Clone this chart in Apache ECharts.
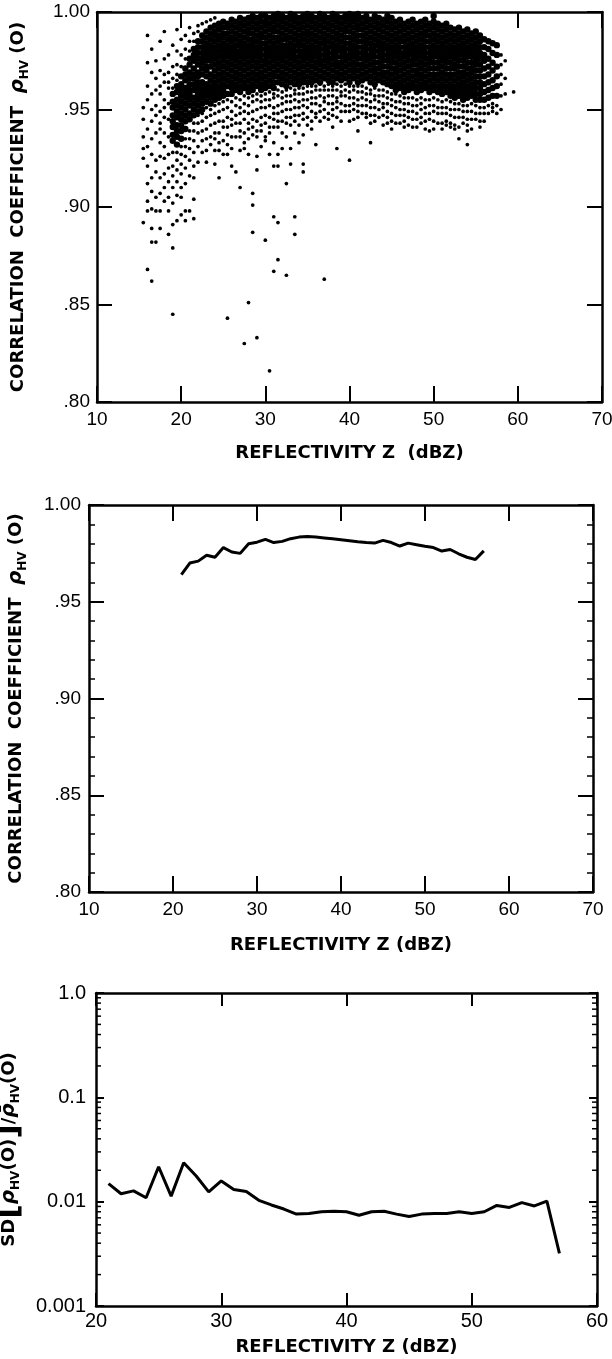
<!DOCTYPE html>
<html><head><meta charset="utf-8">
<script src="https://cdn.jsdelivr.net/npm/echarts@6/dist/echarts.min.js"></script>
<style>html,body{margin:0;padding:0;background:#fff}#c{width:612px;height:1359px}</style>
</head><body><div id="c"></div>
<script>
// ---------- Panel 1: scatter of rho_hv(0) vs Z (values in thousandths of rho) ----------
// dense core of the cloud, by Z column
const coreCols = [
[19.0,[958,954,951,947,944,941,937,934]],
[19.5,[962,959,955,952,949,946,942,939,936,932]],
[20.0,[967,963,960,957,954,951,948,945,942,939,935]],
[20.5,[971,968,965,961,958,956,953,950,947,944,940]],
[21.0,[976,973,969,966,963,960,958,955,952,948,945]],
[21.5,[981,978,975,971,968,966,963,960,956,953,950,947]],
[22.0,[985,982,979,976,973,969,967,964,961,958,955,952,949]],
[22.5,[988,985,982,979,976,974,971,968,964,962,959,956,953,950]],
[23.0,[990,987,984,981,978,975,972,970,967,963,960,957,954]],
[23.5,[992,989,986,983,980,977,975,972,968,965,962,959,956,953]],
[24.0,[993,990,988,985,982,979,976,973,970,967,964,961,958,955]],
[24.5,[994,991,988,986,983,980,977,974,971,968,965,962,959,956]],
[25.0,[995,992,989,987,984,981,978,975,972,969,966,963,960,957]],
[25.5,[994,992,989,986,983,980,977,974,971,968,965,962,958]],
[26.0,[996,993,990,987,985,982,979,976,973,970,967,964,961,958]],
[26.5,[995,992,989,986,983,980,978,975,972,969,966,963,960]],
[27.0,[997,994,991,988,985,983,980,977,974,971,968,965,962,959]],
[27.5,[996,993,990,987,984,981,978,976,973,970,967,964,961]],
[28.0,[997,994,991,989,986,983,980,977,974,971,968,965,962,959]],
[28.5,[998,995,992,989,986,984,981,978,975,972,969,966,963,960]],
[29.0,[997,994,991,988,985,982,979,977,974,971,968,965,962]],
[29.5,[998,995,992,989,987,984,981,978,975,972,969,966,963,960]],
[30.0,[998,995,993,990,987,984,981,978,975,973,970,967,964,961]],
[30.5,[997,994,991,988,985,982,980,977,974,971,968,965,962]],
[31.0,[998,995,992,990,987,984,981,978,975,972,969,967,964,961]],
[31.5,[999,996,993,990,987,985,982,979,976,973,970,967,964]],
[32.0,[998,995,992,989,986,983,981,978,975,972,969,966,963]],
[32.5,[997,994,991,988,986,983,980,977,974,971,968,965,962]],
[33.0,[999,996,993,990,987,984,981,979,976,973,970,967,964]],
[33.5,[998,995,992,989,986,983,980,977,975,972,969,966,963]],
[34.0,[997,994,991,988,985,983,980,977,974,971,968,965,963]],
[34.5,[998,995,992,989,986,983,980,978,975,972,969,966,964]],
[35.0,[999,996,993,990,988,985,982,979,976,973,970,967,964]],
[35.5,[998,995,992,989,986,983,981,978,975,972,969,966,964]],
[36.0,[997,994,991,988,985,982,979,977,974,971,968,965]],
[36.5,[999,996,993,990,987,984,981,978,975,973,970,967,964]],
[37.0,[998,995,992,989,986,984,981,978,975,972,969,966]],
[37.5,[997,994,991,988,985,982,979,976,974,971,968,965]],
[38.0,[999,996,993,990,987,984,982,979,976,973,970,967,964]],
[38.5,[998,995,992,989,986,983,980,977,974,972,969,966]],
[39.0,[997,994,991,988,985,982,980,977,974,971,968,965]],
[39.5,[998,995,992,990,987,984,981,978,975,972,969,966]],
[40.0,[999,996,993,990,987,984,981,978,976,973,970,967,964]],
[40.5,[998,995,992,989,986,983,980,977,974,971,969,966]],
[41.0,[999,996,993,991,988,985,982,979,976,973,970,967,964]],
[41.5,[997,994,991,988,985,982,979,976,973,971,968,965]],
[42.0,[998,995,992,989,986,984,981,978,975,972,969,966]],
[42.5,[996,993,990,987,984,981,978,976,973,970,967,964]],
[43.0,[998,995,992,989,986,983,980,977,974,971,969,966,963]],
[43.5,[997,994,991,988,985,983,980,977,974,971,968,965]],
[44.0,[996,993,990,987,984,981,978,975,972,969,967,964]],
[44.5,[998,995,992,989,986,983,981,978,975,972,969,966,963]],
[45.0,[997,994,991,988,985,982,979,976,974,971,968,965,962]],
[45.5,[995,992,989,986,983,980,977,974,971,969,966,963,960]],
[46.0,[996,993,990,987,985,982,979,976,973,970,967,964,961]],
[46.5,[994,991,988,985,982,979,977,974,971,968,965,962,959]],
[47.0,[995,992,989,986,983,980,978,975,972,969,966,963,960]],
[47.5,[996,993,990,987,984,981,978,975,973,970,967,964,961]],
[48.0,[994,991,988,985,982,979,976,973,970,968,965,962,959]],
[48.5,[995,992,989,986,983,980,977,974,971,968,966,963,960]],
[49.0,[996,993,990,988,985,982,979,976,973,970,967,964,961]],
[49.5,[994,991,988,985,982,979,976,974,971,968,965,962,959]],
[50.0,[998,995,992,989,986,983,980,977,974,971,968,966,963,960]],
[50.5,[994,991,988,985,982,979,977,974,971,968,965,962,959]],
[51.0,[993,990,987,984,981,978,975,972,969,966,963,961,958]],
[51.5,[994,991,988,985,982,979,976,974,971,968,965,962,959]],
[52.0,[992,989,986,983,980,977,974,971,968,966,963,960,957]],
[52.5,[991,988,985,982,979,976,973,971,968,965,962,959,956]],
[53.0,[992,989,986,983,980,978,975,972,969,966,963,960,957]],
[53.5,[990,987,984,981,978,975,972,969,967,964,961,958,955]],
[54.0,[991,988,985,982,979,977,974,971,968,965,962,959,956]],
[54.5,[989,986,983,980,977,974,971,969,966,963,960,957]],
[55.0,[990,987,984,981,978,975,973,970,967,964,961,958,955]],
[55.5,[988,985,982,979,976,973,970,967,964,961,958,955]],
[56.0,[986,982,978,975,971,967,963,959,955]],
[56.5,[985,981,976,972,968,964,960,956]],
[57.0,[984,979,974,970,965,961,957]],
[57.5,[983,978,972,967,962,957]]
];
// sparse points and outliers, by Z column
const looseCols = [
[15.5,[936,930,951,925,945,892]],
[16.0,[962,988,974,940,921,912,898,931,955,903,868]],
[16.5,[981,969,950,935,915,908,927,944,958,889,882,862,899]],
[17.0,[975,960,947,938,924,918,905,952,966,882,898]],
[17.5,[985,970,958,949,940,933,926,915,907,962,943,889,898]],
[18.0,[990,976,964,955,946,938,931,925,917,910,903,951,968]],
[18.5,[978,969,961,953,945,936,927,920,913,905,898,964,886]],
[19.0,[983,972,966,961,928,921,916,910,902,891,879,845]],
[19.5,[991,980,973,968,965,928,924,919,913,906,893]],
[20.0,[986,978,972,931,927,922,917,910,905,896]],
[20.5,[988,981,976,935,931,926,920,912,893,898]],
[21.0,[992,985,980,939,935,930,924,916,898]],
[21.5,[989,985,943,939,934,928,921,915,904,894]],
[22.0,[993,990,947,943,938,931,923]],
[22.5,[994,948,944,939,934,928]],
[23.0,[995,951,946,940,935,929,923]],
[23.5,[996,950,947,942,936,932]],
[24.0,[997,952,948,943,938,935,929,922]],
[24.5,[953,949,944,938,933,929,915]],
[25.0,[954,950,944,941,934,927]],
[25.5,[955,951,946,941,937,932,927,843]],
[26.0,[954,949,945,942,936,930,921]],
[26.5,[956,952,947,943,936,918]],
[27.0,[955,951,948,943,939,936,929,910]],
[27.5,[957,953,949,945,938,933,930,830]],
[28.0,[956,952,948,943,940,935,927,851]],
[28.5,[957,954,949,945,941,937,907,901,887]],
[29.0,[958,955,950,944,939,936,926,919,833]],
[29.5,[957,954,951,946,942,939,931]],
[30.0,[958,955,951,947,943,936,934,883]],
[30.5,[959,955,952,946,941,938,927,816]],
[31.0,[958,956,951,948,945,941,933,921,895,867]],
[31.5,[960,957,952,948,944,941,927,921,892,873]],
[32.0,[959,956,953,949,944,938,930]],
[32.5,[960,957,954,950,946,943,936,912,865]],
[33.0,[961,957,954,950,946,942,930,922]],
[33.5,[960,958,955,951,947,944,938,895,886]],
[34.0,[961,958,954,951,947,942,933]],
[34.5,[961,958,955,952,948,945,937,922,918]],
[35.0,[962,959,955,951,946,942]],
[35.5,[962,959,956,953,949,944,940]],
[36.0,[962,960,956,953,948,946,932]],
[36.5,[963,960,957,952,949,944]],
[37.0,[962,960,956,954,950,946,863]],
[37.5,[963,960,957,953,948,945]],
[38.0,[962,960,957,953,950,947,941]],
[38.5,[963,960,956,954,951,946,930]],
[39.0,[962,959,957,953,949,944]],
[39.5,[963,960,957,952,949]],
[40.0,[962,959,956,952,949,944,924]],
[40.5,[962,960,956,953,950,945]],
[41.0,[962,959,955,952,949,946,939]],
[41.5,[962,959,956,952,948]],
[42.0,[961,958,955,952,948,946]],
[42.5,[960,958,954,951,947,943,933]],
[43.0,[961,957,955,951,947,944]],
[43.5,[960,957,954,950,946]],
[44.0,[960,957,953,951,947,942]],
[44.5,[959,956,953,949,946,943]],
[45.0,[958,955,952,948,944,940]],
[45.5,[958,954,951,947,943]],
[46.0,[957,954,950,947,943]],
[46.5,[956,953,950,947,944,941]],
[47.0,[956,953,949,946,942]],
[47.5,[956,952,949,945,941]],
[48.0,[955,952,948,945,941]],
[48.5,[956,953,950,946,943]],
[49.0,[955,951,948,944,940]],
[49.5,[955,952,948,945,939]],
[50.0,[956,952,949,944,940]],
[50.5,[955,951,948,943]],
[51.0,[954,951,948,943,940]],
[51.5,[955,951,948,944,942]],
[52.0,[954,950,947,943,941]],
[52.5,[953,950,946,942,940]],
[53.0,[953,950,946,941,935]],
[53.5,[952,949,946,943]],
[54.0,[952,949,945,942,939,932]],
[54.5,[953,949,945,940]],
[55.0,[952,948,945]],
[55.5,[951,948,944,941]],
[56.0,[951,948,944]],
[56.5,[952,948]],
[57.0,[953,949,951]],
[57.5,[952,948]],
[58.0,[978,973,968,963,957,950]],
[58.5,[975,966,958]],
[59.5,[959]]
];

// ---------- Panel 2: mean rho_hv(0) vs Z ----------
const meanZ   = [21,22,23,24,25,26,27,28,29,30,31,32,33,34,35,36,37,38,39,40,41,42,43,44,45,46,47,48,49,50,51,52,53,54,55,56,57];
const meanRho = [.964,.970,.971,.974,.973,.978,.9757,.975,.980,.9808,.9822,.9806,.9812,.9826,.9834,.9837,.9835,.983,.9825,.982,.9815,.981,.9806,.9803,.9817,.9806,.9788,.9803,.9795,.9787,.978,.9762,.977,.9748,.973,.9718,.9763];

// ---------- Panel 3: SD[rho]/mean rho vs Z ----------
const sdZ     = [21,22,23,24,25,26,27,28,29,30,31,32,33,34,35,36,37,38,39,40,41,42,43,44,45,46,47,48,49,50,51,52,53,54,55,56,57];
const sdRatio = [.0149,.0119,.0127,.0109,.0216,.0113,.0236,.0176,.0124,.0158,.0131,.0125,.0103,.0093,.0085,.0076,.0077,.0080,.0081,.0080,.0074,.0080,.0081,.0076,.0072,.0076,.0077,.0077,.0080,.0077,.0080,.0092,.0088,.0098,.0091,.0101,.0032];

// axis tick values
const zTicks1 = [10, 70, 10];     // min, max, interval
const rhoTicks = [0.80, 1.00, 0.05];
const zTicks3 = [20, 60, 10];
const sdRange = [0.001, 1];
const logMinor = [0.002,0.003,0.004,0.005,0.006,0.007,0.008,0.009,0.02,0.03,0.04,0.05,0.06,0.07,0.08,0.09,0.2,0.3,0.4,0.5,0.6,0.7,0.8,0.9];

// ---------- build ----------
const corePts = [];
coreCols.forEach(([z, vals]) => vals.forEach(v => corePts.push([z, v / 1000])));
const loosePts = [];
looseCols.forEach(([z, vals]) => vals.forEach(v => loosePts.push([z, v / 1000])));

const TF = 'Liberation Sans';
const HF = 'DejaVu Sans';
const axLine = {show: true, onZero: false, lineStyle: {color: '#000', width: 2.5}};
function tick(len) { return {show: true, inside: true, length: len, lineStyle: {color: '#000', width: 2}}; }
const rhoFmt = v => v >= 0.999 ? '1.00' : '.' + String(Math.round(v * 100));
const labelStyle = (m, fs) => ({show: true, margin: m, fontFamily: TF, fontSize: fs, color: '#000'});
const titleStyle = {fontFamily: HF, fontWeight: 'bold', fontSize: 18, color: '#000'};
const richY = {
  t: {fontFamily: HF, fontWeight: 'bold', fontSize: 18, lineHeight: 26, color: '#000', verticalAlign: 'middle'},
  r: {fontFamily: HF, fontStyle: 'italic', fontWeight: 'bold', fontSize: 20, lineHeight: 26, color: '#000', verticalAlign: 'middle'},
  s: {fontFamily: HF, fontWeight: 'bold', fontSize: 12, lineHeight: 13, color: '#000', verticalAlign: 'bottom'},
  b: {fontFamily: HF, fontWeight: 'bold', fontSize: 32, lineHeight: 26, color: '#000', verticalAlign: 'middle'}
};
const yName12 = '{t|CORRELATION  COEFFICIENT  }{r|ρ}{s|HV}{t| (O)}';
const yName3 = '{t|SD}{b|[}{r|ρ}{s|HV}{t|(O)}{b|]}{t|/}{r|ρ\u0304}{s|HV}{t|(O)}';

function xPair(gi, rng, len, lab, name, gap) {
  return [
    {gridIndex: gi, type: 'value', position: 'bottom', min: rng[0], max: rng[1], interval: rng[2],
     axisLine: axLine, axisTick: tick(len), splitLine: {show: false},
     axisLabel: Object.assign(labelStyle(lab[0], lab[1]), {showMinLabel: true, showMaxLabel: true}),
     name: name, nameLocation: 'middle', nameGap: gap, nameTextStyle: titleStyle},
    {gridIndex: gi, type: 'value', position: 'top', min: rng[0], max: rng[1], interval: rng[2],
     axisLine: axLine, axisTick: tick(len), splitLine: {show: false}, axisLabel: {show: false}}
  ];
}
function yPairLin(gi, len, minor, lab, gap) {
  const mt = minor ? {show: true, splitNumber: 5, length: 6, lineStyle: {color: '#000', width: 1.5}} : {show: false};
  return [
    {gridIndex: gi, type: 'value', position: 'left', min: rhoTicks[0], max: rhoTicks[1], interval: rhoTicks[2],
     axisLine: axLine, axisTick: tick(len), minorTick: mt, splitLine: {show: false}, minorSplitLine: {show: false},
     axisLabel: Object.assign(labelStyle(lab[0], lab[1]), {formatter: rhoFmt, showMinLabel: true, showMaxLabel: true}),
     name: yName12, nameLocation: 'middle', nameRotate: 90, nameGap: gap, nameTextStyle: {rich: richY}},
    {gridIndex: gi, type: 'value', position: 'right', min: rhoTicks[0], max: rhoTicks[1], interval: rhoTicks[2],
     axisLine: axLine, axisTick: tick(len), minorTick: mt, splitLine: {show: false}, axisLabel: {show: false}}
  ];
}

const xAxes = [].concat(
  xPair(0, zTicks1, 16, [8, 19], 'REFLECTIVITY Z  (dBZ)', 42),
  xPair(1, zTicks1, 16, [8, 19], 'REFLECTIVITY Z (dBZ)', 44),
  xPair(2, zTicks3, 13, [5, 20], 'REFLECTIVITY Z (dBZ)', 32)
);
const yAxes = [].concat(
  yPairLin(0, 15, false, [7, 19], 66),
  yPairLin(1, 15, true, [8, 19], 60),
  [
    {gridIndex: 2, type: 'log', logBase: 10, position: 'left', min: sdRange[0], max: sdRange[1],
     axisLine: axLine, axisTick: tick(8), splitLine: {show: false},
     axisLabel: Object.assign(labelStyle(10, 20), {formatter: v => v >= 1 ? '1.0' : String(v), showMinLabel: true, showMaxLabel: true}),
     name: yName3, nameLocation: 'middle', nameRotate: 90, nameGap: 64, nameTextStyle: {rich: richY}},
    {gridIndex: 2, type: 'log', logBase: 10, position: 'right', min: sdRange[0], max: sdRange[1],
     axisLine: axLine, axisTick: tick(8), splitLine: {show: false}, axisLabel: {show: false}}
  ]
);

const option = {
  animation: false,
  backgroundColor: '#fff',
  textStyle: {fontFamily: TF, color: '#000'},
  grid: [
    {left: 97, top: 12, width: 505, height: 390, outerBoundsMode: 'none', containLabel: false},
    {left: 89, top: 505, width: 504, height: 387, outerBoundsMode: 'none', containLabel: false},
    {left: 96, top: 993, width: 501, height: 313, outerBoundsMode: 'none', containLabel: false}
  ],
  xAxis: xAxes,
  yAxis: yAxes,
  series: [
    {type: 'scatter', xAxisIndex: 0, yAxisIndex: 0, data: corePts, symbol: 'circle', symbolSize: 6.4,
     itemStyle: {color: '#000', opacity: 1}, large: false, progressive: 0, silent: true},
    {type: 'scatter', xAxisIndex: 0, yAxisIndex: 0, data: loosePts, symbol: 'circle', symbolSize: 3.7,
     itemStyle: {color: '#000', opacity: 1}, large: false, progressive: 0, silent: true},
    {type: 'line', xAxisIndex: 2, yAxisIndex: 2, data: meanZ.map((z, i) => [z, meanRho[i]]),
     showSymbol: false, lineStyle: {color: '#000', width: 3}, silent: true},
    {type: 'line', xAxisIndex: 4, yAxisIndex: 4, data: sdZ.map((z, i) => [z, sdRatio[i]]),
     showSymbol: false, lineStyle: {color: '#000', width: 3}, silent: true},
    {type: 'custom', xAxisIndex: 4, yAxisIndex: 4, silent: true, clip: false,
     data: logMinor.map(v => [zTicks3[0], v]),
     encode: {x: 0, y: 1},
     renderItem: function (params, api) {
       const v = api.value(1);
       const pL = api.coord([zTicks3[0], v]);
       const pR = api.coord([zTicks3[1], v]);
       const st = {stroke: '#000', lineWidth: 1.5};
       return {type: 'group', children: [
         {type: 'line', shape: {x1: pL[0], y1: pL[1], x2: pL[0] + 5, y2: pL[1]}, style: st},
         {type: 'line', shape: {x1: pR[0] - 5, y1: pR[1], x2: pR[0], y2: pR[1]}, style: st}
       ]};
     }}
  ]
};
const chart = echarts.init(document.getElementById('c'), null, {renderer: 'canvas', width: 612, height: 1359});
chart.setOption(option);
</script></body></html>
